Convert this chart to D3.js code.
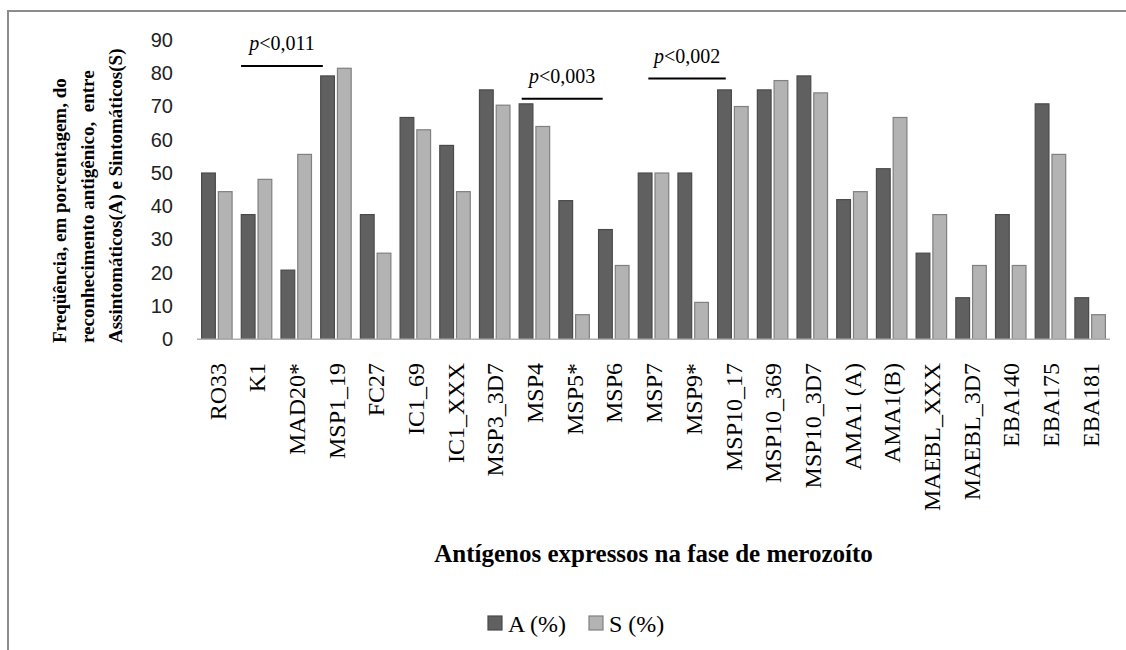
<!DOCTYPE html>
<html>
<head>
<meta charset="utf-8">
<script src="https://cdn.jsdelivr.net/npm/d3@7"></script>
<style>
  html, body { margin: 0; padding: 0; background: #fff; }
  svg { display: block; }
</style>
</head>
<body>
<svg id="chart" width="1126" height="650"></svg>
<script>
// ---- data ----
const categories = ["RO33","K1","MAD20*","MSP1_19","FC27","IC1_69","IC1_XXX","MSP3_3D7","MSP4","MSP5*","MSP6","MSP7","MSP9*","MSP10_17","MSP10_369","MSP10_3D7","AMA1 (A)","AMA1(B)","MAEBL_XXX","MAEBL_3D7","EBA140","EBA175","EBA181"];
const seriesNames = ["A (%)", "S (%)"];
const valuesA = [50, 37.5, 20.8, 79.2, 37.5, 66.7, 58.3, 75, 70.8, 41.7, 33, 50, 50, 75, 75, 79.2, 42, 51.3, 25.9, 12.5, 37.5, 70.8, 12.5];
const valuesS = [44.4, 48.1, 55.6, 81.5, 25.9, 63, 44.4, 70.4, 64, 7.4, 22.2, 50, 11.1, 70, 77.8, 74.1, 44.4, 66.7, 37.5, 22.2, 22.2, 55.6, 7.4];
const yTicks = [0, 10, 20, 30, 40, 50, 60, 70, 80, 90];
// significance annotations: positions in category-index units and value units
const sigFrom = [1.11, 8.18, 11.37];
const sigTo = [3.17, 10.22, 13.32];
const sigLevel = [82.2, 72.3, 78.4];
const sigLabel = ["<0,011", "<0,003", "<0,002"];
const yTitleLines = ["Freqüência, em porcentagem, do", "reconhecimento antigênico,  entre", "Assintomáticos(A) e Sintomáticos(S)"];
const xTitle = "Antígenos expressos na fase de merozoíto";

// ---- layout ----
const svg = d3.select("#chart");
const colors = ["#606060", "#b3b3b3"];
const strokes = ["#4a4a4a", "#808080"];
const plotLeft = 197, plotRight = 1110, plotTop = 40, plotBottom = 339.3;

svg.append("rect").attr("width", 1126).attr("height", 650).attr("fill", "#fff");
svg.append("rect").attr("x", 8).attr("y", 11).attr("width", 1140).attr("height", 660)
  .attr("fill", "none").attr("stroke", "#8c8c8c").attr("stroke-width", 2);

const x = d3.scaleBand().domain(categories).range([plotLeft, plotRight])
  .paddingInner(0.232).paddingOuter(0.116);
const xs = d3.scaleBand().domain(seriesNames).range([0, x.bandwidth()]).paddingInner(0.18);
const xi = d3.scaleLinear().domain([0, categories.length]).range([plotLeft, plotRight]);
const y = d3.scaleLinear().domain([0, 90]).range([plotBottom, plotTop]);

// y axis labels
const yAxis = d3.axisLeft(y).tickValues(yTicks).tickSize(0).tickPadding(24).tickFormat(d3.format("d"));
const gy = svg.append("g").attr("transform", `translate(${plotLeft},0)`).call(yAxis);
gy.select(".domain").remove();
gy.selectAll("text").attr("font-family", "'Liberation Sans', Arial, sans-serif")
  .attr("font-size", 20).attr("fill", "#222");

// bars
const data = categories.map((c, i) => ({ c, vals: [valuesA[i], valuesS[i]] }));
const groups = svg.append("g").selectAll("g").data(data).join("g")
  .attr("transform", d => `translate(${x(d.c)},0)`);
groups.selectAll("rect").data(d => d.vals.map((v, k) => ({ k, v }))).join("rect")
  .attr("x", d => xs(seriesNames[d.k]))
  .attr("width", xs.bandwidth())
  .attr("y", d => y(d.v))
  .attr("height", d => y(0) - y(d.v))
  .attr("fill", d => colors[d.k])
  .attr("stroke", d => strokes[d.k])
  .attr("stroke-width", 1.2);

// x axis line
svg.append("line").attr("x1", plotLeft).attr("x2", plotRight)
  .attr("y1", y(0)).attr("y2", y(0)).attr("stroke", "#b0b0b0").attr("stroke-width", 1.5);

// category labels
svg.append("g").selectAll("text").data(categories).join("text")
  .attr("transform", d => `translate(${x(d) + x.bandwidth() / 2 + 1},363) rotate(-90)`)
  .attr("text-anchor", "end").attr("dy", "0.32em")
  .attr("font-family", "'Liberation Serif', 'Times New Roman', serif")
  .attr("font-size", 24).attr("fill", "#000")
  .text(d => d);

// significance annotations
sigLabel.forEach((lab, i) => {
  svg.append("line").attr("x1", xi(sigFrom[i])).attr("x2", xi(sigTo[i]))
    .attr("y1", y(sigLevel[i])).attr("y2", y(sigLevel[i]))
    .attr("stroke", "#000").attr("stroke-width", 2);
  const t = svg.append("text")
    .attr("x", (xi(sigFrom[i]) + xi(sigTo[i])) / 2).attr("y", y(sigLevel[i]) - 16)
    .attr("text-anchor", "middle")
    .attr("font-family", "'Liberation Serif', 'Times New Roman', serif")
    .attr("font-size", 20).attr("fill", "#000");
  t.append("tspan").attr("font-style", "italic").text("p");
  t.append("tspan").text(lab);
});

// y axis title
const yTitle = svg.append("g");
yTitleLines.forEach((line, i) => {
  yTitle.append("text")
    .attr("transform", `translate(${66 + i * 28},343) rotate(-90)`)
    .attr("text-anchor", "start")
    .attr("font-family", "'Liberation Serif', 'Times New Roman', serif")
    .attr("font-weight", "bold").attr("font-size", 19).attr("fill", "#000")
    .attr("xml:space", "preserve").style("white-space", "pre")
    .text(line);
});

// x axis title
svg.append("text").attr("x", (plotLeft + plotRight) / 2).attr("y", 562)
  .attr("text-anchor", "middle")
  .attr("font-family", "'Liberation Serif', 'Times New Roman', serif")
  .attr("font-weight", "bold").attr("font-size", 25).attr("fill", "#000")
  .text(xTitle);

// legend
const legendX = [488, 589];
seriesNames.forEach((s, k) => {
  svg.append("rect").attr("x", legendX[k]).attr("y", 616).attr("width", 14).attr("height", 14)
    .attr("fill", colors[k]).attr("stroke", strokes[k]).attr("stroke-width", 1.2);
  svg.append("text").attr("x", legendX[k] + 20).attr("y", 632)
    .attr("font-family", "'Liberation Serif', 'Times New Roman', serif")
    .attr("font-size", 24).attr("fill", "#000").text(s);
});
</script>
</body>
</html>
